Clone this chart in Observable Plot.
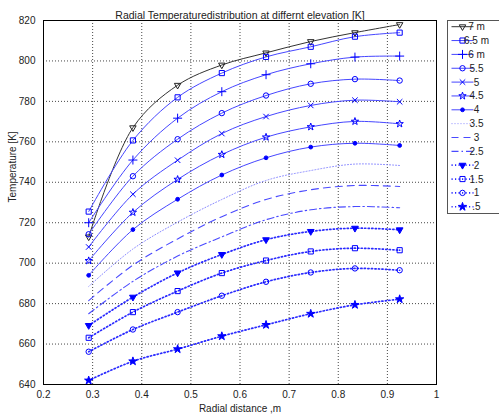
<!DOCTYPE html>
<html><head><meta charset="utf-8">
<script src="https://cdn.jsdelivr.net/npm/d3@7"></script>
<script src="https://cdn.jsdelivr.net/npm/@observablehq/plot@0.6"></script>
<style>
body{margin:0;background:#fff;}
#chart svg{font-family:"Liberation Sans",Arial,Helvetica,sans-serif;}
</style>
</head><body><div id="chart"></div>
<script>
// ---- data ----
const radius = [0.292, 0.382, 0.473, 0.563, 0.653, 0.744, 0.834, 0.925];
const seriesNames = ["7 m","6.5 m","6 m","5.5","5","4.5","4","3.5","3","2.5","2","1.5","1",".5"];
const t7_0  = [713.0, 767.0, 788.0, 798.0, 804.0, 809.6, 814.0, 818.0];
const t6_5  = [725.5, 760.7, 782.0, 794.0, 802.0, 807.0, 812.0, 814.0];
const t6_0  = [720.0, 751.0, 771.7, 784.8, 793.2, 798.6, 801.9, 802.4];
const t5_5  = [714.3, 743.0, 761.3, 774.2, 782.9, 788.7, 791.0, 790.3];
const t5_0  = [708.0, 734.1, 750.9, 764.1, 772.5, 778.0, 780.6, 779.8];
const t4_5  = [701.2, 725.1, 741.4, 753.7, 762.3, 767.4, 770.1, 768.9];
const t4_0  = [694.0, 716.6, 731.6, 743.6, 752.1, 757.4, 759.3, 758.2];
const t3_5  = [688.5, 707.0, 720.3, 731.5, 740.9, 745.8, 749.0, 748.3];
const t3_0  = [681.5, 699.0, 712.0, 723.0, 731.5, 736.3, 738.4, 737.9];
const t2_5  = [675.0, 691.0, 703.5, 713.0, 721.5, 726.4, 728.0, 727.4];
const t2_0  = [669.2, 683.2, 695.2, 704.3, 711.6, 715.7, 717.3, 716.5];
const t1_5  = [663.1, 675.8, 686.2, 695.1, 701.3, 705.8, 707.4, 706.4];
const t1_0  = [656.2, 667.2, 675.8, 683.9, 690.8, 695.4, 697.4, 696.5];
const t0_5  = [642.0, 651.5, 657.5, 663.9, 669.5, 675.0, 679.4, 682.2];
const seriesValues = [t7_0,t6_5,t6_0,t5_5,t5_0,t4_5,t4_0,t3_5,t3_0,t2_5,t2_0,t1_5,t1_0,t0_5];
const xTicks = [0.2,0.3,0.4,0.5,0.6,0.7,0.8,0.9,1];
const yTicks = [640,660,680,700,720,740,760,780,800,820];
const titleText = "Radial Temperaturedistribution at differnt elevation [K]";
const xLabel = "Radial distance ,m";
const yLabel = "Temperature [K]";

// ---- styles ----
const strokes = ["#333","#4646ff","#4646ff","#4646ff","#4646ff","#4646ff","#4646ff","#8a8aff","#4a4aff","#4a4aff","#2a2aff","#2a2aff","#2a2aff","#2a2aff"];
const lineWidths = [1,1,1,1,1,1,1,1,1.1,1.1,1.7,1.7,1.7,1.7];
const dashes = [null,null,null,null,null,null,null,"1 2","7 5","7 3 1.5 3","1.2 2.3","1.2 2.3","1.2 2.3","1.2 2.3"];
const symbols = ["triangle","square","plus","circle","times","star","circle",null,null,null,"triangle","square","circle","star"];
const symbolFill = [false,false,false,false,false,false,true,false,false,false,true,false,false,true];
const symbolRot = [180,0,0,0,0,0,0,0,0,0,180,0,0,0];
const symbolR = [2.4,2.9,3.0,2.7,2.6,2.3,1.9,0,0,0,2.5,2.9,2.7,2.6];
const d3Sym = {triangle:d3.symbolTriangle,square:d3.symbolSquare,plus:d3.symbolPlus,circle:d3.symbolCircle,times:d3.symbolTimes,star:d3.symbolStar};

const rows = [];
seriesNames.forEach((s,i)=>radius.forEach((r,j)=>rows.push({series:s, idx:i, r, T:seriesValues[i][j]})));

const marks = [
  Plot.gridX(xTicks.slice(1,-1), {stroke:"#333", strokeOpacity:0.9, strokeDasharray:"1 2"}),
  Plot.gridY(yTicks.slice(1,-1), {stroke:"#333", strokeOpacity:0.9, strokeDasharray:"1 2"}),
];
seriesNames.forEach((s,i)=>{
  const d = rows.filter(o=>o.idx===i);
  marks.push(Plot.line(d, {x:"r", y:"T", curve:"catmull-rom", stroke:strokes[i], strokeWidth:lineWidths[i], strokeDasharray:dashes[i]}));
});
seriesNames.forEach((s,i)=>{
  if (!symbols[i]) return;
  const d = rows.filter(o=>o.idx===i);
  marks.push(Plot.dot(d, {x:"r", y:"T", symbol:symbols[i], r:symbolR[i], rotate:symbolRot[i],
    stroke: i===0?"#222":"blue", strokeWidth:1, fill: symbolFill[i] ? "blue" : "none"}));
});
marks.push(
  Plot.frame({stroke:"#000"}),
  Plot.axisX({ticks:xTicks, tickFormat:d=>d===1?"1":d3.format(".1f")(d), tickSize:0, tickPadding:6, label:null, fill:"#222"}),
  Plot.axisY({ticks:yTicks, tickFormat:d=>String(d), tickSize:0, tickPadding:8, label:null, fill:"#222"}),
  Plot.text([xLabel], {frameAnchor:"bottom", dy:27, fontSize:10, fill:"#222"}),
  Plot.text([yLabel], {frameAnchor:"left", dx:-31, rotate:-90, fontSize:10, fill:"#222"}),
  Plot.text([titleText], {frameAnchor:"top", dy:-9, fontSize:10.5, fill:"#222"})
);

const plot = Plot.plot({
  width: 499, height: 419,
  marginLeft: 43, marginRight: 63, marginTop: 20, marginBottom: 35,
  style: {fontSize:"10px", background:"#fff"},
  x: {domain:[0.2,1]},
  y: {domain:[640,820]},
  marks
});
document.getElementById("chart").appendChild(plot);

// ---- legend ----
const svg = d3.select(plot);
const lg = svg.append("g").attr("class","legend");
const lx = 447.5, ly = 20.5, step = 13.85;
lg.append("rect").attr("x",lx).attr("y",ly).attr("width",60).attr("height",193)
  .attr("fill","#fff").attr("stroke","#555");
seriesNames.forEach((s,i)=>{
  const y = ly + 6.2 + i*step;
  lg.append("line").attr("x1",lx+4).attr("x2",lx+26).attr("y1",y).attr("y2",y)
    .attr("stroke",strokes[i]).attr("stroke-width",lineWidths[i])
    .attr("stroke-dasharray",dashes[i]);
  if (symbols[i]) {
    lg.append("path").attr("d", d3.symbol(d3Sym[symbols[i]], Math.PI*symbolR[i]*symbolR[i])())
      .attr("transform",`translate(${lx+15},${y}) rotate(${symbolRot[i]})`)
      .attr("stroke", i===0?"#222":"blue").attr("stroke-width",1)
      .attr("fill", symbolFill[i] ? "blue" : "none");
  }
  lg.append("text").attr("x",lx+29).attr("y",y).attr("dy","0.35em")
    .attr("font-size",10).attr("fill","#222").text(s);
});
</script>
</body></html>
